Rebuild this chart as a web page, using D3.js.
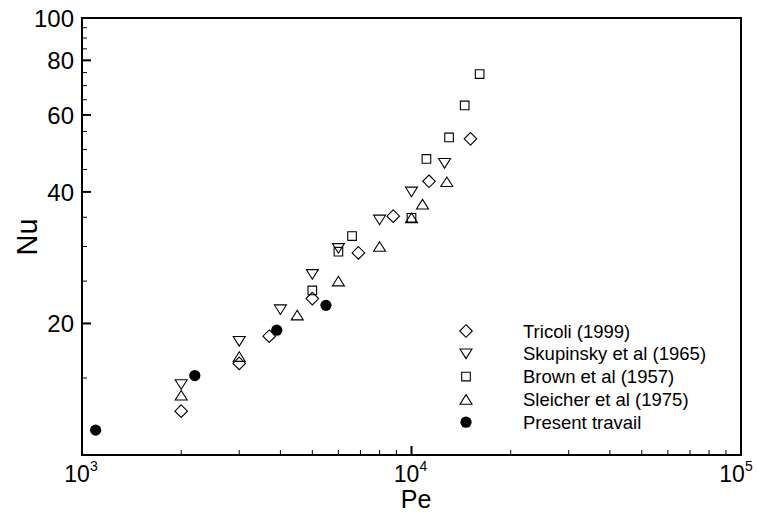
<!DOCTYPE html>
<html><head><meta charset="utf-8">
<script src="https://cdn.jsdelivr.net/npm/d3@7"></script>
<style>html,body{margin:0;padding:0;background:#fff;}svg{display:block;font-family:"Liberation Sans",Arial,sans-serif;}</style>
</head><body><svg id="c" width="758" height="513"></svg>
<script>
// ---- data ----
const seriesNames = ["Tricoli (1999)", "Skupinsky et al (1965)", "Brown et al (1957)", "Sleicher et al (1975)", "Present travail"];
const tricoliPe = [2000, 3000, 3700, 5000, 6900, 8800, 11300, 15100];
const tricoliNu = [12.6, 16.2, 18.7, 22.8, 29.0, 35.2, 42.3, 52.9];
const skupinskyPe = [2000, 3000, 4000, 5000, 6000, 8000, 10000, 12600];
const skupinskyNu = [14.5, 18.2, 21.5, 25.9, 29.7, 34.5, 40.0, 46.5];
const brownPe = [5000, 6000, 6600, 10000, 11100, 13000, 14500, 16100];
const brownNu = [23.8, 29.2, 31.7, 34.9, 47.6, 53.3, 63.1, 74.4];
const sleicherPe = [2000, 3000, 4500, 6000, 8000, 10000, 10800, 12800];
const sleicherNu = [13.7, 16.8, 20.9, 25.0, 30.0, 34.9, 37.5, 42.2];
const presentPe = [1100, 2200, 3900, 5500];
const presentNu = [11.4, 15.2, 19.3, 22.0];
const xMajorTicks = [1e3, 1e4, 1e5];
const xTickExponents = ["3", "4", "5"];
const yMajorTicks = [20, 40, 60, 80, 100];

// ---- layout ----
const svg = d3.select("#c");
const L = 82, R = 741, T = 18, B = 455;
const x = d3.scaleLog().domain([1e3, 1e5]).range([L, R]);
const y = d3.scaleLog().domain([10, 100]).range([B, T]);

// minor ticks
const xMinor = [];
[1e3, 1e4].forEach(d => { for (let k = 2; k <= 9; k++) xMinor.push(d * k); });
const yMinor = [];
for (let v = 15; v < 100; v += 5) if (!yMajorTicks.includes(v)) yMinor.push(v);

const g = svg.append("g");
// x ticks
g.selectAll(".xm").data(xMinor).join("line")
  .attr("x1", d => x(d)).attr("x2", d => x(d)).attr("y1", B).attr("y2", B - 5)
  .attr("stroke", "#000").attr("stroke-width", 1);
g.selectAll(".xM").data(xMajorTicks).join("line")
  .attr("x1", d => x(d)).attr("x2", d => x(d)).attr("y1", B).attr("y2", B - 9)
  .attr("stroke", "#000").attr("stroke-width", 2);
// y ticks
g.selectAll(".ym").data(yMinor).join("line")
  .attr("x1", L).attr("x2", L + 5).attr("y1", d => y(d)).attr("y2", d => y(d))
  .attr("stroke", "#000").attr("stroke-width", 1);
g.selectAll(".yM").data(yMajorTicks).join("line")
  .attr("x1", L).attr("x2", L + 9).attr("y1", d => y(d)).attr("y2", d => y(d))
  .attr("stroke", "#000").attr("stroke-width", 2);

// frame
g.append("rect").attr("x", L).attr("y", T).attr("width", R - L).attr("height", B - T)
  .attr("fill", "none").attr("stroke", "#000").attr("stroke-width", 2);

// y labels
g.selectAll(".yl").data(yMajorTicks).join("text")
  .attr("x", L - 8).attr("y", d => y(d)).attr("dy", "0.36em")
  .attr("text-anchor", "end").attr("font-size", 24).text(d => d);

// x labels
xMajorTicks.forEach((d, i) => {
  const t = g.append("text").attr("x", Math.min(x(d) - 1, 736)).attr("y", 482)
    .attr("text-anchor", "middle").attr("font-size", 23);
  t.append("tspan").text("10");
  t.append("tspan").attr("font-size", 14).attr("dy", -11).text(xTickExponents[i]);
});

// axis titles
g.append("text").attr("x", 416).attr("y", 507.5).attr("text-anchor", "middle")
  .attr("font-size", 25).text("Pe");
g.append("text").attr("transform", "translate(37,237) rotate(-90)")
  .attr("text-anchor", "middle").attr("font-size", 29).text("Nu");

// markers
const sym = {
  diamond: s => `M0,${-s}L${s},0L0,${s}L${-s},0Z`,
  down: s => `M${-s},${-s * 0.8}L${s},${-s * 0.8}L0,${s * 0.8}Z`,
  up: s => `M${-s},${s * 0.8}L${s},${s * 0.8}L0,${-s * 0.8}Z`,
  square: s => `M${-s},${-s}L${s},${-s}L${s},${s}L${-s},${s}Z`
};
const series = [
  { pe: tricoliPe, nu: tricoliNu, shape: "diamond", size: 6.3 },
  { pe: skupinskyPe, nu: skupinskyNu, shape: "down", size: 6 },
  { pe: brownPe, nu: brownNu, shape: "square", size: 4.3 },
  { pe: sleicherPe, nu: sleicherNu, shape: "up", size: 6 },
  { pe: presentPe, nu: presentNu, shape: "circle", size: 5.6 }
];
function drawMarker(sel, s) {
  if (s.shape === "circle") {
    sel.append("circle").attr("r", s.size).attr("fill", "#000");
  } else {
    sel.append("path").attr("d", sym[s.shape](s.size)).attr("fill", "none")
      .attr("stroke", "#000").attr("stroke-width", 1.1);
  }
}
series.forEach(s => {
  s.pe.forEach((p, i) => {
    const m = g.append("g").attr("transform", `translate(${x(p)},${y(s.nu[i])})`);
    drawMarker(m, s);
  });
});

// legend
const lg = g.append("g");
seriesNames.forEach((name, i) => {
  const yy = 331 + i * 22.8;
  const m = lg.append("g").attr("transform", `translate(466,${yy})`);
  drawMarker(m, series[i]);
  lg.append("text").attr("x", 523).attr("y", yy).attr("dy", "0.36em")
    .attr("font-size", 18.5).text(name);
});
</script></body></html>
